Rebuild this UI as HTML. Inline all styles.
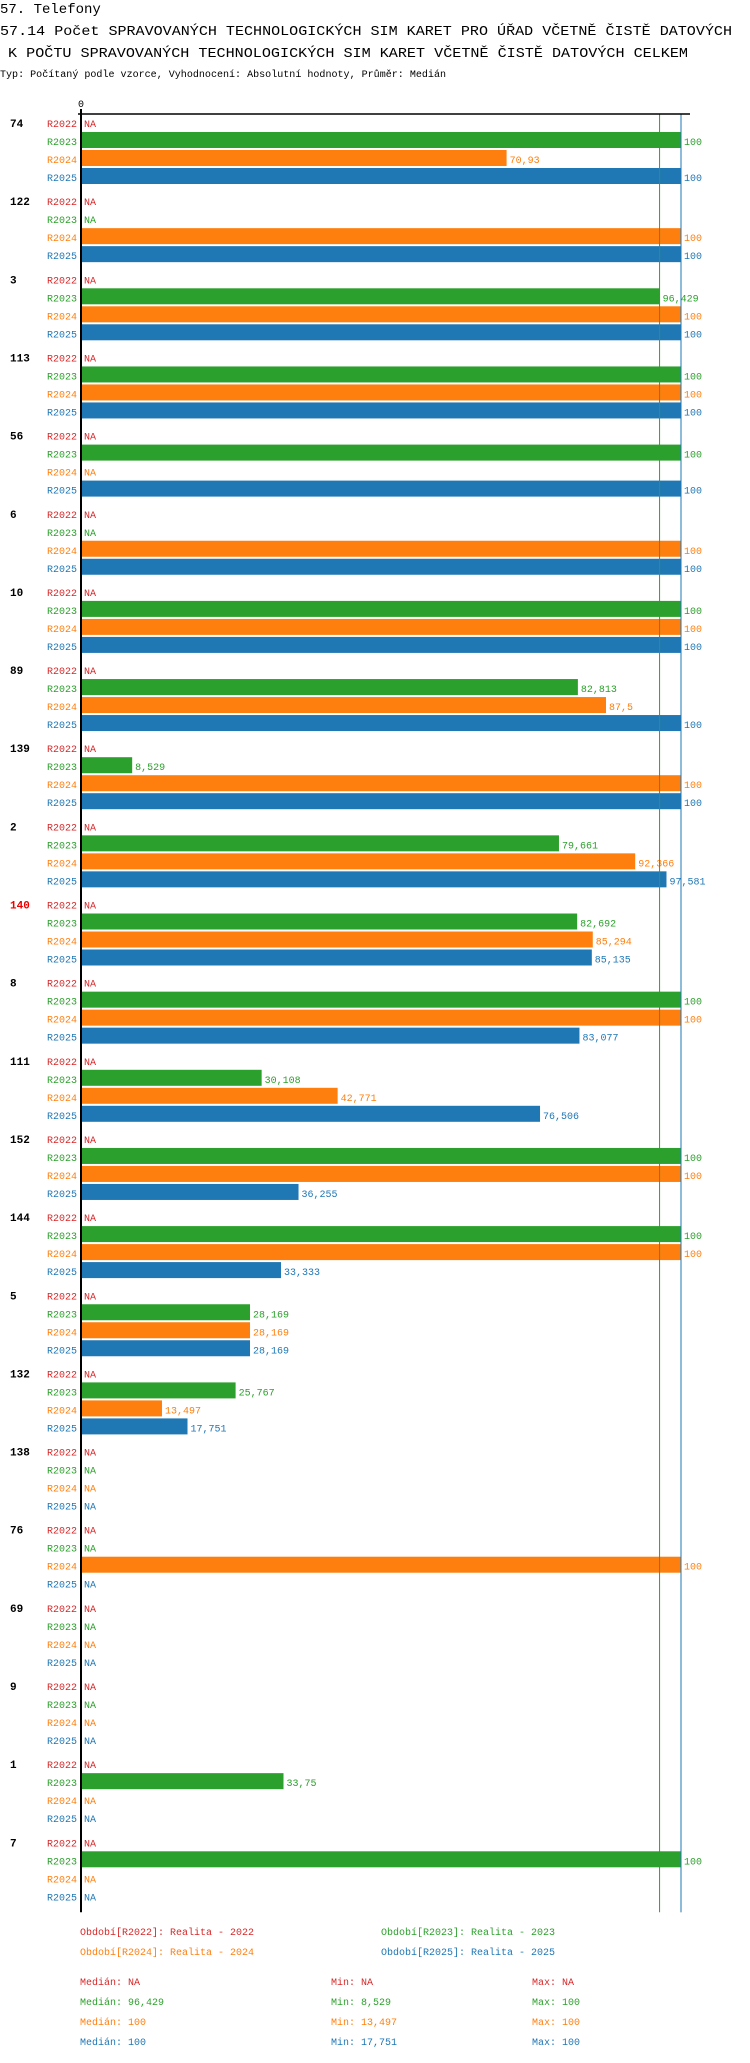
<!DOCTYPE html>
<html><head><meta charset="utf-8"><style>
body{margin:0;background:#fff;}
svg text{font-family:"Liberation Mono",monospace;}
</style></head><body>
<svg id="c" width="750" height="2058" xmlns="http://www.w3.org/2000/svg">
<text x="0" y="13" font-size="14">57. Telefony</text>
<text x="0" y="35" font-size="14" textLength="732" lengthAdjust="spacingAndGlyphs">57.14 Počet SPRAVOVANÝCH TECHNOLOGICKÝCH SIM KARET PRO ÚŘAD VČETNĚ ČISTĚ DATOVÝCH</text>
<text x="8" y="57" font-size="14" textLength="680" lengthAdjust="spacingAndGlyphs">K POČTU SPRAVOVANÝCH TECHNOLOGICKÝCH SIM KARET VČETNĚ ČISTĚ DATOVÝCH CELKEM</text>
<text x="0" y="77" font-size="10" textLength="446" lengthAdjust="spacingAndGlyphs">Typ: Počítaný podle vzorce, Vyhodnocení: Absolutní hodnoty, Průměr: Medián</text>
<text x="81" y="107" font-size="10" text-anchor="middle">0</text>
<g id="g"></g>
</svg>
<script>
const groups=["74","122","3","113","56","6","10","89","139","2","140","8","111","152","144","5","132","138","76","69","9","1","7"];
const periods=["R2022","R2023","R2024","R2025"];
const r2022=[null,null,null,null,null,null,null,null,null,null,null,null,null,null,null,null,null,null,null,null,null,null,null];
const r2023=[100,null,96.429,100,100,null,100,82.813,8.529,79.661,82.692,100,30.108,100,100,28.169,25.767,null,null,null,null,33.75,100];
const r2024=[70.93,100,100,100,null,100,100,87.5,100,92.366,85.294,100,42.771,100,100,28.169,13.497,null,100,null,null,null,null];
const r2025=[100,100,100,100,100,100,100,100,100,97.581,85.135,83.077,76.506,36.255,33.333,28.169,17.751,null,null,null,null,null,null];
const medians=[null,96.429,100,100];
const colors=["#d62728","#2ca02c","#ff7f0e","#1f77b4"];
const series=[r2022,r2023,r2024,r2025];
const X0=81,SC=6.0,Y0=123,GS=78.15,RS=18;
const x=v=>X0+v*SC;
const y=(gi,ri)=>Y0+gi*GS+ri*RS;
const g=document.getElementById('g');
const NS="http://www.w3.org/2000/svg";
function el(t,a,txt){const e=document.createElementNS(NS,t);for(const k in a)e.setAttribute(k,a[k]);if(txt!=null)e.textContent=txt;g.appendChild(e);return e;}
const fmt=v=>String(+v.toFixed(3)).replace('.',',');
const bottom=y(groups.length-1,3)+16;
groups.forEach((gn,gi)=>{
  const t=el('text',{x:10,y:y(gi,0)+4,'font-size':11,'font-weight':'bold',fill:gn==="140"?"#e00":"#000"},gn);
  
  
  periods.forEach((p,ri)=>{
    const cy=y(gi,ri);
    const l=el('text',{x:77,y:cy+4,'font-size':10,'text-anchor':'end',fill:colors[ri]},p);
    
    
    const v=series[ri][gi];
    if(v==null){
      const n=el('text',{x:84,y:cy+4,'font-size':10,fill:colors[ri]},'NA');
      
      
    } else {
      const b=el('rect',{x:X0,y:cy-9,width:x(v)-X0,height:16,fill:colors[ri]});
      
      
      const vl=el('text',{x:x(v)+3,y:cy+4,'font-size':10,fill:colors[ri]},fmt(v));
      
      
    }
  });
});
medians.forEach((m,i)=>{ if(m==null)return;
  const ml=el('line',{x1:x(m),x2:x(m),y1:114,y2:bottom,stroke:colors[i],'stroke-width':1});
  
  
});
const ax=el('line',{x1:78,x2:690,y1:114,y2:114,stroke:'#000','stroke-width':1.5});


const ay=el('line',{x1:X0,x2:X0,y1:109,y2:bottom,stroke:'#000','stroke-width':2});


const legend=[["Období[R2022]: Realita - 2022",80,1935,0],["Období[R2023]: Realita - 2023",381,1935,1],["Období[R2024]: Realita - 2024",80,1955,2],["Období[R2025]: Realita - 2025",381,1955,3]];
legend.forEach(l=>{const t=el('text',{x:l[1],y:l[2],'font-size':10,fill:colors[l[3]]},l[0]);
  
  });
const stats=[["NA","NA","NA"],["96,429","8,529","100"],["100","13,497","100"],["100","17,751","100"]];
stats.forEach((s,i)=>{const yy=1985+i*20;
  [["Medián: "+s[0],80],["Min: "+s[1],331],["Max: "+s[2],532]].forEach(q=>{
    const t=el('text',{x:q[1],y:yy,'font-size':10,fill:colors[i]},q[0]);
    
    });
});
</script>
</body></html>
